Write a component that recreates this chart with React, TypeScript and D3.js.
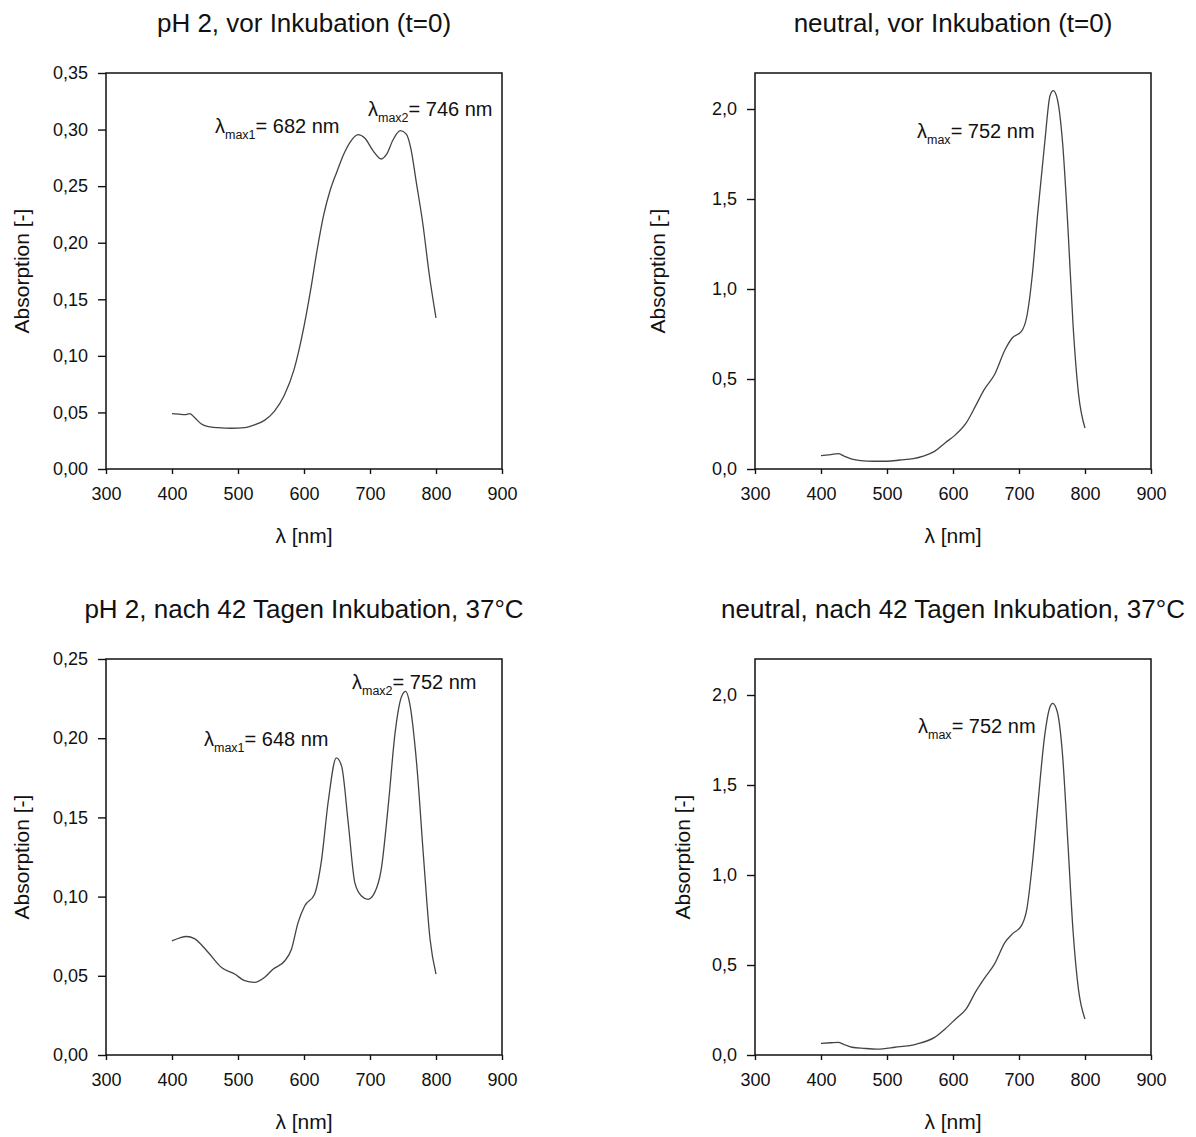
import React, { useEffect, useRef } from 'react';
import * as d3 from 'd3';

// x axis (wavelength) is the same for all four panels
const nmTicks = [300, 400, 500, 600, 700, 800, 900];
const acidStartTicks = [0, 0.05, 0.1, 0.15, 0.2, 0.25, 0.3, 0.35];
const acidEndTicks = [0, 0.05, 0.1, 0.15, 0.2, 0.25];
const neutralTicks = [0, 0.5, 1.0, 1.5, 2.0];

// pH 2, t=0
const acidStartNm = [400, 410, 420, 427, 435, 444, 455, 470, 490, 510, 525, 540, 555, 570, 585, 600, 610, 620, 630, 640, 650, 660, 670, 682, 692, 705, 717, 725, 735, 746, 755, 762, 770, 780, 790, 800];
const acidStartAbs = [0.049, 0.0485, 0.048, 0.049, 0.045, 0.040, 0.0375, 0.0365, 0.036, 0.0365, 0.039, 0.043, 0.051, 0.065, 0.088, 0.126, 0.158, 0.194, 0.225, 0.247, 0.263, 0.278, 0.289, 0.2955, 0.2925, 0.281, 0.274, 0.278, 0.291, 0.299, 0.296, 0.283, 0.254, 0.217, 0.171, 0.1335];

// neutral, t=0
const neutralStartNm = [400, 415, 426, 435, 447, 460, 480, 500, 520, 540, 555, 572, 588, 604, 620, 634, 647, 663, 679, 690, 704, 712, 720, 728, 739, 747, 752, 758, 766, 774, 782, 790, 800];
const neutralStartAbs = [0.074, 0.08, 0.085, 0.072, 0.055, 0.047, 0.043, 0.043, 0.05, 0.058, 0.072, 0.098, 0.145, 0.191, 0.256, 0.349, 0.44, 0.525, 0.664, 0.729, 0.766, 0.85, 1.072, 1.406, 1.814, 2.074, 2.102, 2.056, 1.814, 1.35, 0.794, 0.423, 0.228];

// pH 2, 42 days
const acidEndNm = [400, 412, 422, 434, 455, 475, 495, 510, 525, 540, 553, 571, 581, 591, 601, 616, 626, 637, 649, 657, 667, 677, 687, 697, 707, 717, 728, 738, 748, 754, 760, 771, 781, 791, 800];
const acidEndAbs = [0.0721, 0.074, 0.0748, 0.0735, 0.0647, 0.0553, 0.0511, 0.0469, 0.0458, 0.0489, 0.0542, 0.0595, 0.0668, 0.0836, 0.0941, 0.1015, 0.1214, 0.161, 0.1876, 0.1824, 0.1466, 0.1088, 0.1004, 0.0983, 0.1025, 0.1172, 0.159, 0.2034, 0.2265, 0.2296, 0.2223, 0.1824, 0.1256, 0.0731, 0.051];

// neutral, 42 days
const neutralEndNm = [400, 415, 426, 435, 447, 465, 485, 512, 545, 572, 588, 604, 620, 634, 647, 663, 679, 690, 704, 712, 720, 728, 739, 747, 751, 758, 766, 774, 782, 790, 800];
const neutralEndAbs = [0.065, 0.068, 0.07, 0.058, 0.043, 0.037, 0.033, 0.043, 0.061, 0.098, 0.145, 0.2, 0.256, 0.349, 0.423, 0.506, 0.627, 0.673, 0.72, 0.813, 1.054, 1.369, 1.777, 1.935, 1.954, 1.907, 1.666, 1.184, 0.683, 0.367, 0.2];

const titles = [
  'pH 2, vor Inkubation (t=0)',
  'neutral, vor Inkubation (t=0)',
  'pH 2, nach 42 Tagen Inkubation, 37°C',
  'neutral, nach 42 Tagen Inkubation, 37°C',
];

const FONT = '"Liberation Sans", Arial, sans-serif';
const W = 396;
const H = 396;

const fmt = (digits) => (v) => d3.format(`.${digits}f`)(v).replace('.', ',');

const Panel = ({ left, top, title, nm, abs, yMax, yTicks, digits, notes, yLabelDx }) => {
  const ref = useRef(null);

  useEffect(() => {
    const g = d3.select(ref.current);
    g.selectAll('*').remove();

    const x = d3.scaleLinear().domain([300, 900]).range([0, W]);
    const y = d3.scaleLinear().domain([0, yMax]).range([H, 0]);

    const xAxis = g.append('g')
      .attr('transform', `translate(0,${H})`)
      .call(d3.axisBottom(x).tickValues(nmTicks).tickSize(5).tickPadding(13).tickSizeOuter(0));
    const yAxis = g.append('g')
      .call(d3.axisLeft(y).tickValues(yTicks).tickFormat(fmt(digits)).tickSize(8).tickPadding(10).tickSizeOuter(0));

    [xAxis, yAxis].forEach(a => {
      a.select('.domain').remove();
      a.selectAll('line').attr('stroke', '#111').attr('stroke-width', 1.4);
      a.selectAll('text').attr('font-family', FONT).attr('font-size', 18).attr('fill', '#111');
    });

    g.append('rect')
      .attr('width', W).attr('height', H)
      .attr('fill', 'none').attr('stroke', '#111').attr('stroke-width', 1.5);

    const line = d3.line()
      .x((d, i) => x(nm[i]))
      .y(d => y(d))
      .curve(d3.curveMonotoneX);

    g.append('path')
      .attr('d', line(abs))
      .attr('fill', 'none')
      .attr('stroke', '#444')
      .attr('stroke-width', 1.3);

    g.append('text')
      .attr('x', W / 2).attr('y', -41)
      .attr('text-anchor', 'middle')
      .attr('font-family', FONT).attr('font-size', 26).attr('fill', '#111')
      .text(title);

    g.append('text')
      .attr('x', W / 2).attr('y', H + 74)
      .attr('text-anchor', 'middle')
      .attr('font-family', FONT).attr('font-size', 21).attr('fill', '#111')
      .text('λ [nm]');

    g.append('text')
      .attr('transform', `translate(${yLabelDx},${H / 2}) rotate(-90)`)
      .attr('text-anchor', 'middle')
      .attr('font-family', FONT).attr('font-size', 21).attr('fill', '#111')
      .text('Absorption [-]');

    notes.forEach(n => {
      const t = g.append('text')
        .attr('x', n.dx).attr('y', n.dy)
        .attr('font-family', FONT).attr('font-size', 20).attr('fill', '#111');
      t.append('tspan').text('λ');
      t.append('tspan').attr('font-size', 12.5).attr('dy', 6).text(n.sub);
      t.append('tspan').attr('dy', -6).text(n.text);
    });
  }, []);

  return <g ref={ref} transform={`translate(${left},${top})`} />;
};

export default function App() {
  return (
    <svg width={1196} height={1137} style={{ position: 'absolute', left: 0, top: 0, background: '#fff' }}>
      <Panel left={106} top={73} title={titles[0]} nm={acidStartNm} abs={acidStartAbs}
        yMax={0.35} yTicks={acidStartTicks} digits={2} yLabelDx={-77}
        notes={[{ dx: 109, dy: 60, sub: 'max1', text: '= 682 nm' }, { dx: 262, dy: 43, sub: 'max2', text: '= 746 nm' }]} />
      <Panel left={755} top={73} title={titles[1]} nm={neutralStartNm} abs={neutralStartAbs}
        yMax={2.2} yTicks={neutralTicks} digits={1} yLabelDx={-90}
        notes={[{ dx: 162, dy: 65, sub: 'max', text: '= 752 nm' }]} />
      <Panel left={106} top={659} title={titles[2]} nm={acidEndNm} abs={acidEndAbs}
        yMax={0.25} yTicks={acidEndTicks} digits={2} yLabelDx={-77}
        notes={[{ dx: 98, dy: 87, sub: 'max1', text: '= 648 nm' }, { dx: 246, dy: 30, sub: 'max2', text: '= 752 nm' }]} />
      <Panel left={755} top={659} title={titles[3]} nm={neutralEndNm} abs={neutralEndAbs}
        yMax={2.2} yTicks={neutralTicks} digits={1} yLabelDx={-65}
        notes={[{ dx: 163, dy: 74, sub: 'max', text: '= 752 nm' }]} />
    </svg>
  );
}
